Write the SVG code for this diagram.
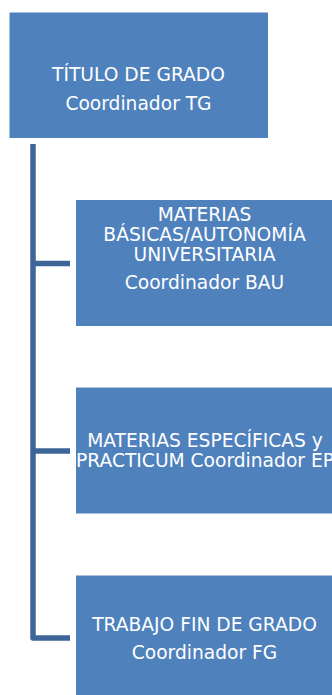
<svg xmlns="http://www.w3.org/2000/svg" width="332" height="695" viewBox="0 0 332 695">
<style>
.box{fill:#4F81BD;stroke:#ffffff;stroke-width:1}
.t{font-family:"DejaVu Sans","Verdana",sans-serif;font-size:18.67px;fill:#ffffff;text-anchor:middle}
.c{stroke:#3E6597;stroke-width:5.5;fill:none;stroke-linejoin:round}
</style>
<rect width="332" height="695" fill="#ffffff"/>
<g id="connectors">
<path class="c" d="M33 144 V638 H70"/>
<path class="c" d="M33 263.5 H70"/>
<path class="c" d="M33 451 H70"/>
</g>
<g id="tg">
<rect class="box" x="9" y="12" width="259.5" height="126.5"/>
<text class="t" x="138.5" y="81">TÍTULO DE GRADO</text>
<text class="t" x="138.5" y="110">Coordinador TG</text>
</g>
<g id="bau">
<rect class="box" x="75.5" y="199.5" width="258" height="127"/>
<text class="t" x="204.5" y="221">MATERIAS</text>
<text class="t" x="204.5" y="241">BÁSICAS/AUTONOMÍA</text>
<text class="t" x="204.5" y="261">UNIVERSITARIA</text>
<text class="t" x="204.5" y="289">Coordinador BAU</text>
</g>
<g id="ep">
<rect class="box" x="75.5" y="387" width="258" height="127"/>
<text class="t" x="205" y="447">MATERIAS ESPECÍFICAS y</text>
<text class="t" x="205" y="467">PRACTICUM Coordinador EP</text>
</g>
<g id="fg">
<rect class="box" x="75.5" y="575" width="258" height="127"/>
<text class="t" x="204.5" y="631">TRABAJO FIN DE GRADO</text>
<text class="t" x="204.5" y="659">Coordinador FG</text>
</g>
</svg>
